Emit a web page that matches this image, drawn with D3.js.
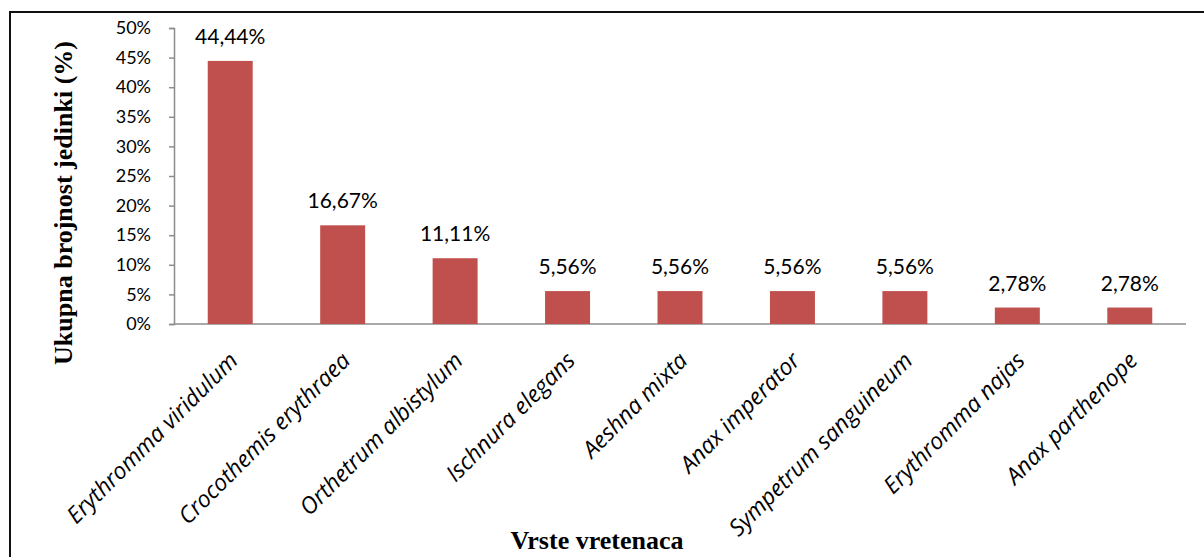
<!DOCTYPE html>
<html>
<head>
<meta charset="utf-8">
<script src="https://cdn.jsdelivr.net/npm/d3@7"></script>
<style>
  body { margin: 0; background: #fff; }
  svg { display: block; }
</style>
</head>
<body>
<div id="chart"></div>
<script>
// data
var species = ["Erythromma viridulum", "Crocothemis erythraea", "Orthetrum albistylum",
  "Ischnura elegans", "Aeshna mixta", "Anax imperator", "Sympetrum sanguineum",
  "Erythromma najas", "Anax parthenope"];
var shares = [0.4444, 0.1667, 0.1111, 0.0556, 0.0556, 0.0556, 0.0556, 0.0278, 0.0278];
var shareLabels = ["44,44%", "16,67%", "11,11%", "5,56%", "5,56%", "5,56%", "5,56%", "2,78%", "2,78%"];
var yTicks = [0, 0.05, 0.10, 0.15, 0.20, 0.25, 0.30, 0.35, 0.40, 0.45, 0.50];

var W = 1204, H = 557;
var margin = {top: 28, right: 18, bottom: 233, left: 174};
var width = W - margin.left - margin.right,
    height = H - margin.top - margin.bottom;

var svg = d3.select("#chart").append("svg")
  .attr("width", W)
  .attr("height", H);

// outer frame (only left and top edges visible)
svg.append("path")
  .attr("d", "M10," + H + "V12H" + W)
  .attr("fill", "none")
  .attr("stroke", "#111")
  .attr("stroke-width", 2);

var g = svg.append("g").attr("transform", "translate(" + margin.left + "," + margin.top + ")");

var x = d3.scaleBand()
  .domain(species)
  .range([0, width])
  .paddingInner(0.6)
  .paddingOuter(0.3);

var y = d3.scaleLinear()
  .domain([0, 0.5])
  .range([height, 0]);

var pctFmt = function(d) { return Math.round(d * 100) + "%"; };

// y axis
var yAxis = g.append("g")
  .call(d3.axisLeft(y).tickValues(yTicks).tickFormat(pctFmt).tickSize(5).tickPadding(18));
yAxis.select(".domain").attr("stroke", "#8c8c8c").attr("stroke-width", 1.5);
yAxis.selectAll(".tick line").attr("stroke", "#8c8c8c").attr("stroke-width", 1.5);
yAxis.selectAll(".tick text")
  .attr("fill", "#000")
  .style("font", "18px Lato, 'Open Sans', sans-serif");

// x axis line
g.append("line")
  .attr("x1", 0).attr("x2", width)
  .attr("y1", height).attr("y2", height)
  .attr("stroke", "#8c8c8c")
  .attr("stroke-width", 1.5);

// bars
g.selectAll("rect.bar")
  .data(shares)
  .enter().append("rect")
  .attr("class", "bar")
  .attr("x", function(d, i) { return x(species[i]); })
  .attr("y", function(d) { return y(d); })
  .attr("width", x.bandwidth())
  .attr("height", function(d) { return height - y(d); })
  .attr("fill", "#c0504d");

// value labels
g.selectAll("text.val")
  .data(shares)
  .enter().append("text")
  .attr("class", "val")
  .attr("x", function(d, i) { return x(species[i]) + x.bandwidth() / 2; })
  .attr("y", function(d) { return y(d) - 17; })
  .attr("text-anchor", "middle")
  .style("font", "21px Lato, 'Open Sans', sans-serif")
  .text(function(d, i) { return shareLabels[i]; });

// category labels, rotated
g.selectAll("text.cat")
  .data(species)
  .enter().append("text")
  .attr("class", "cat")
  .attr("text-anchor", "end")
  .attr("transform", function(d) {
    return "translate(" + (x(d) + x.bandwidth() / 2 + 9) + "," + (height + 38) + ") rotate(-45)";
  })
  .style("font", "italic 23px 'Open Sans', Lato, sans-serif")
  .text(function(d) { return d; });

// axis titles
svg.append("text")
  .attr("x", 597)
  .attr("y", 549)
  .attr("text-anchor", "middle")
  .style("font", "bold 26px 'Liberation Serif', 'Times New Roman', serif")
  .text("Vrste vretenaca");

svg.append("text")
  .attr("transform", "translate(72,203) rotate(-90)")
  .attr("text-anchor", "middle")
  .style("font", "bold 26px 'Liberation Serif', 'Times New Roman', serif")
  .text("Ukupna brojnost jedinki (%)");
</script>
</body>
</html>
